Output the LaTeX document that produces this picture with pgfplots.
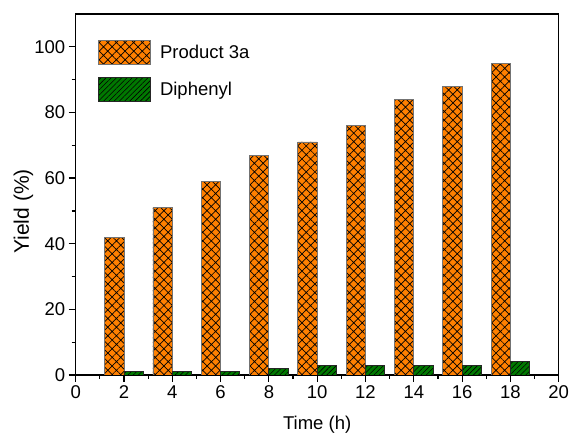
\documentclass[border=0pt]{standalone}
\usepackage{pgfplots}
\pgfplotsset{compat=1.18}
\usepackage{fontspec}
\setmainfont{Liberation Sans}
\usetikzlibrary{patterns.meta}
\definecolor{borange}{RGB}{255,128,0}
\definecolor{bgreen}{RGB}{0,120,0}
\begin{document}
\begin{tikzpicture}
\path[use as bounding box] (-75.7pt,-60pt) rectangle (495.3pt,375pt);
\begin{axis}[
  at={(0,0)}, anchor=south west,
  scale only axis,
  width=483pt, height=361pt,
  xmin=0, xmax=20, ymin=0, ymax=110,
  xtick={0,2,...,20}, ytick={0,20,...,100},
  minor x tick num=1, minor y tick num=1,
  tick align=outside, tick pos=left,
  major tick length=7pt, minor tick length=4pt,
  axis line style={line width=1.4pt},
  every tick/.style={line width=1.2pt, black},
  font=\fontsize{18.5}{22}\selectfont,
  /pgf/number format/assume math mode=true,
  xlabel={Time (h)}, ylabel={Yield (\%)},
  xlabel style={at={(axis description cs:0.5,0)}, anchor=center, yshift=-50pt},
  ylabel style={at={(axis description cs:-0.108,0.453)}, anchor=center, font=\fontsize{21}{24}\selectfont},
  ybar, bar width=0.8,
  area legend,
  legend image code/.code={\draw[#1] (0pt,-12pt) rectangle (52pt,12pt);},
  legend style={draw=none, fill=none, inner sep=0pt, at={(rel axis cs:0.046,0.928)}, anchor=north west,
    row sep=12pt, nodes={inner xsep=9pt}, font=\fontsize{18.5}{22}\selectfont},
  legend cell align=left,
]
\addplot[bar shift=-0.4, fill=borange, draw=black!55, line width=0.9pt,
  postaction={pattern={Hatch[angle=45, distance=6.1pt, line width=0.7pt]}, pattern color=black}]
  coordinates {(2,42) (4,51) (6,59) (8,67) (10,71) (12,76) (14,84) (16,88) (18,95)};
\addplot[bar shift=0.4, fill=bgreen, draw=black!85, line width=0.9pt,
  postaction={pattern={Lines[angle=45, distance=3.7pt, line width=0.6pt]}, pattern color=black}]
  coordinates {(2,1) (4,1) (6,1) (8,2) (10,3) (12,3) (14,3) (16,3) (18,4)};
\legend{Product 3a, Diphenyl}
\end{axis}
\end{tikzpicture}
\end{document}
